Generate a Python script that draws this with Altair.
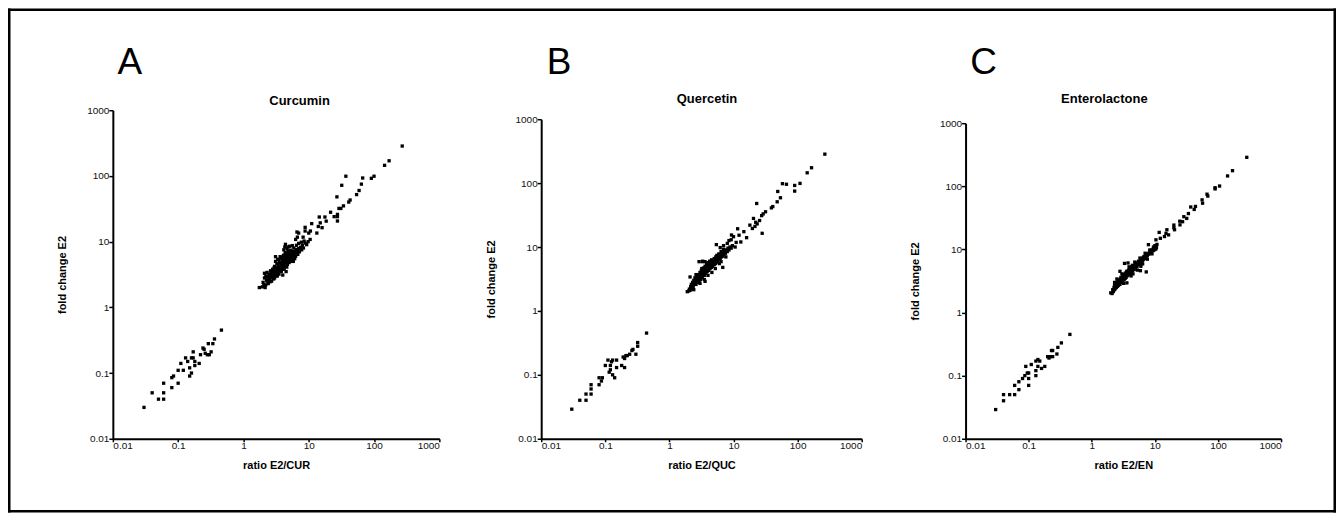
import altair as alt
import pandas as pd

letters = ["A", "B", "C"]
compounds = ["Curcumin", "Quercetin", "Enterolactone"]
x_titles = ["ratio E2/CUR", "ratio E2/QUC", "ratio E2/EN"]
y_title = "fold change E2"
tick_values = [0.01, 0.1, 1, 10, 100, 1000]

# (ratio, fold change) pairs
cur_low = [(0.03,0.03),(0.04,0.05),(0.05,0.04),(0.06,0.04),(0.06,0.05),(0.06,0.07),(0.08,0.06),(0.08,0.085),
           (0.085,0.09),(0.1,0.07),(0.1,0.11),(0.11,0.14),(0.12,0.11),(0.13,0.17),(0.14,0.15),(0.15,0.12),
           (0.15,0.09),(0.16,0.1),(0.16,0.17),(0.17,0.21),(0.17,0.17),(0.18,0.13),(0.18,0.15),(0.21,0.14),
           (0.22,0.19),(0.24,0.24),(0.25,0.23),(0.26,0.2),(0.28,0.19),(0.29,0.28),(0.3,0.19),(0.32,0.21),
           (0.34,0.28),(0.36,0.33),(0.46,0.45)]
cur_out = [(270,285),(170,170),(145,145),(100,99),(91,92),(67,93),(64,75),(59,60),(54,52),(43,43),(41,40),
           (34,35),(31,32),(29,32),(37,99),(32,72),(27,48),(27.5,26),(27.5,24),(27.5,20.6),(24.5,24),(21.6,28),
           (17.7,23.7),(18.5,20.5),(14.5,23.7),(15,19.3),(14,17),(16,16.3),(13.3,13.5),(11.1,18.8),(10.6,14.5),
           (10,13.5),(8.8,16.5),(8.8,14.5),(8.2,11.7),(7,13.5),(6.7,11.7),(6.3,10.8),(6.6,14)]
cur_core = [(1.75,2.0),(1.95,2.05),(2.0,2.4),(2.05,2.2),(2.1,3.3),(2.1,2.8),(2.15,2.0),(2.2,2.2),(2.2,3.0),
            (2.25,2.6),(2.3,2.5),(2.3,3.4),(2.35,2.9),(2.4,2.7),(2.4,2.3),(2.45,3.2),(2.5,3.0),(2.5,2.6),
            (2.55,2.45),(2.6,3.6),(2.6,2.8),(2.65,3.3),(2.7,2.5),(2.7,3.2),(2.75,2.9),(2.8,3.0),(2.8,3.8),
            (2.85,3.5),(2.9,2.7),(2.9,3.4),(2.95,4.0),(3.0,3.1),(3.0,4.2),(3.0,2.8),(3.05,3.5),(3.1,3.6),
            (3.1,5.0),(3.1,5.9),(3.15,3.0),(3.2,3.3),(3.2,4.0),(3.25,4.6),(3.3,3.0),(3.3,3.7),(3.35,5.4),
            (3.4,4.5),(3.4,3.4),(3.45,4.1),(3.5,3.9),(3.5,5.3),(3.5,3.2),(3.55,4.8),(3.6,4.2),(3.6,3.6),
            (3.65,5.9),(3.7,4.8),(3.7,4.0),(3.75,3.7),(3.8,3.5),(3.8,5.6),(3.85,4.6),(3.9,4.3),(3.9,3.8),
            (3.95,5.2),(4.0,4.6),(4.0,5.0),(4.0,4.0),(4.0,3.1),(4.05,5.8),(4.1,6.2),(4.1,4.4),(4.15,7.5),
            (4.2,3.8),(4.2,5.2),(4.25,4.9),(4.3,4.7),(4.3,8.3),(4.35,6.8),(4.4,5.5),(4.4,4.2),(4.4,9.1),
            (4.45,5.9),(4.5,4.9),(4.5,6.5),(4.55,5.2),(4.6,5.3),(4.6,4.1),(4.65,7.8),(4.7,4.5),(4.7,5.8),
            (4.75,6.2),(4.8,5.0),(4.8,7.2),(4.8,8.3),(4.85,5.4),(4.9,5.5),(4.95,6.7),(5.0,6.0),(5.0,4.8),
            (5.1,8.5),(5.1,5.1),(5.2,5.4),(5.2,6.4),(5.3,5.0),(5.3,7.4),(5.4,5.8),(5.5,7.0),(5.5,6.1),
            (5.6,5.3),(5.6,8.7),(5.7,6.6),(5.8,5.8),(5.9,8.0),(5.9,7.1),(6.0,6.3),(6.0,5.6),(6.2,7.0),
            (6.3,6.0),(6.4,7.6),(6.5,6.8),(6.5,8.8),(6.7,7.4),(6.8,6.4),(7.0,7.8),(7.0,9.4),(7.2,7.0),
            (7.5,8.2),(7.7,9.8),(7.8,7.5),(8.0,8.8),(8.3,8.0),(8.5,10.2),(8.8,9.5),(9.3,9.0),(9.8,10.0),
            (10.5,10.8),(4.5,3.5),(5.8,5.0),(6.1,5.5)]

quc_low = [(0.03,0.029),(0.04,0.04),(0.05,0.04),(0.05,0.05),(0.06,0.05),(0.06,0.07),(0.06,0.06),(0.08,0.07),
           (0.08,0.09),(0.087,0.08),(0.09,0.09),(0.1,0.14),(0.11,0.17),(0.115,0.11),(0.12,0.14),(0.125,0.16),
           (0.13,0.17),(0.13,0.1),(0.14,0.09),(0.15,0.17),(0.15,0.13),(0.18,0.14),(0.19,0.19),(0.2,0.13),
           (0.21,0.2),(0.22,0.2),(0.24,0.21),(0.26,0.24),(0.27,0.25),(0.3,0.21),(0.32,0.28),(0.32,0.32),
           (0.44,0.45),(0.12,0.12),(0.2,0.18)]
quc_out = [(266,284),(165,174),(141,145),(109,99),(90,92),(90,75),(58,98),(67,96),(54,59),(49,74),(48,51),
           (41,43),(39,41),(31.6,35.6),(29,33),(27.5,31),(28,16.4),(23,48),(25.5,26),(22.2,24.4),(20.5,28),
           (23.4,23),(21.6,21),(19.7,19.5),(18,22),(14.5,17.4),(11.6,19.3),(12.2,15.3),(10,14.5),(9.3,15.4),
           (9.2,13),(10.6,10),(8.0,11.4),(7,9.2),(6.8,4.8),(5.4,10.9),(3.25,5.9),(2.9,5.9),(3.6,2.9),(2.1,3.4),
           (16,14),(13,12),(11,11.8),(8.5,12.6),(6.2,9.8)]
quc_core = [(1.9,2.0),(2.0,2.05),(2.05,2.2),(2.1,2.1),(2.15,2.4),(2.2,2.3),(2.2,2.6),(2.25,2.2),(2.3,2.5),
            (2.3,2.8),(2.35,2.4),(2.4,2.7),(2.4,3.0),(2.45,2.6),(2.5,2.9),(2.5,3.3),(2.55,2.7),(2.6,3.0),
            (2.6,2.6),(2.65,3.2),(2.7,2.9),(2.7,3.5),(2.75,3.1),(2.8,2.8),(2.8,3.3),(2.85,3.7),(2.9,3.0),
            (2.9,3.5),(2.95,3.2),(3.0,3.4),(3.0,4.0),(3.05,3.1),(3.1,3.7),(3.1,3.3),(3.15,4.3),(3.2,3.5),
            (3.2,3.9),(3.25,3.3),(3.3,3.7),(3.3,4.2),(3.35,3.6),(3.4,4.0),(3.4,4.7),(3.45,3.8),(3.5,4.2),
            (3.5,3.6),(3.55,4.5),(3.6,4.0),(3.6,5.0),(3.65,4.3),(3.7,3.9),(3.7,4.7),(3.75,4.4),(3.8,4.1),
            (3.8,5.4),(3.85,4.6),(3.9,4.2),(3.9,5.0),(3.95,4.8),(4.0,4.4),(4.0,5.7),(4.05,4.6),(4.1,5.1),
            (4.1,4.3),(4.2,4.8),(4.2,5.5),(4.25,6.0),(4.3,4.6),(4.3,5.2),(4.4,5.0),(4.4,5.8),(4.5,4.8),
            (4.5,5.4),(4.55,6.3),(4.6,5.1),(4.7,5.6),(4.7,5.0),(4.8,5.3),(4.8,6.1),(4.9,5.7),(5.0,5.3),
            (5.0,6.6),(5.1,5.9),(5.2,5.5),(5.2,6.3),(5.3,7.0),(5.4,5.8),(5.5,6.2),(5.5,7.4),(5.6,6.0),
            (5.7,6.7),(5.8,6.3),(5.9,7.8),(6.0,6.6),(6.1,7.1),(6.2,6.4),(6.3,7.5),(6.4,8.5),(6.5,7.0),
            (6.6,7.8),(6.8,7.2),(6.9,8.2),(7.0,10.5),(7.1,7.7),(7.3,8.6),(7.5,8.0),(7.7,9.0),(8.0,8.5),
            (8.2,9.6),(8.5,9.0),(8.8,10.0),(9.2,9.6),(9.6,10.5),(3.0,2.7),(4.6,4.0),(6.0,5.5),(3.3,6.0),
            (3.6,5.9),(2.6,3.7),(3.2,4.6),(4.0,3.6),(5.2,4.6),(6.4,5.9),(7.6,7.0),(2.4,2.15),(3.5,3.1)]

en_low = [(0.03,0.029),(0.04,0.04),(0.04,0.05),(0.05,0.05),(0.06,0.05),(0.06,0.07),(0.07,0.08),(0.07,0.06),
          (0.08,0.09),(0.087,0.1),(0.09,0.14),(0.095,0.11),(0.1,0.11),(0.1,0.09),(0.1,0.07),(0.11,0.15),
          (0.13,0.17),(0.13,0.12),(0.13,0.1),(0.14,0.18),(0.14,0.14),(0.15,0.17),(0.16,0.13),(0.18,0.14),
          (0.2,0.2),(0.21,0.19),(0.23,0.25),(0.24,0.25),(0.24,0.2),(0.28,0.22),(0.29,0.28),(0.33,0.33),
          (0.45,0.45),(0.22,0.2)]
en_out = [(286,288),(170,177),(142,146),(106,101),(90,95),(90,91),(67,75),(69,70),(56,61),(57,54),(44,48),
          (42,43),(37,47),(34,37),(28.8,33),(32,31),(27.5,27.5),(25,24.5),(24.8,28),(20,24.3),(20,22),
          (20.5,20.5),(15.5,20.5),(15,18),(16.5,17),(14.2,16),(11.7,18.6),(12.2,15),(10.4,14.2),(10.8,12),
          (10,11.5),(9.5,10.9),(7.9,11.9),(7.3,4.4),(3.75,6.1)]
en_core = [(2.0,2.05),(2.1,2.0),(2.15,2.3),(2.2,2.15),(2.25,2.5),(2.3,2.3),(2.3,2.7),(2.35,2.4),(2.4,2.6),
           (2.4,2.9),(2.45,2.5),(2.5,2.7),(2.5,3.0),(2.55,2.6),(2.6,2.8),(2.6,3.1),(2.65,2.7),(2.7,2.9),
           (2.7,3.3),(2.75,3.0),(2.8,2.8),(2.8,3.2),(2.85,3.4),(2.9,3.0),(2.9,3.6),(2.95,3.2),(3.0,3.1),
           (3.0,3.5),(3.05,3.3),(3.1,3.2),(3.1,3.7),(3.15,3.4),(3.2,3.3),(3.2,3.8),(3.25,3.6),(3.3,3.4),
           (3.3,4.0),(3.35,3.7),(3.4,3.5),(3.4,4.2),(3.45,3.9),(3.5,3.6),(3.5,4.1),(3.55,4.4),(3.6,3.8),
           (3.6,4.5),(3.65,4.0),(3.7,3.9),(3.7,4.3),(3.8,4.1),(3.8,4.6),(3.85,4.3),(3.9,4.0),(3.9,4.8),
           (4.0,4.3),(4.0,4.5),(4.1,4.4),(4.1,5.0),(4.2,4.6),(4.2,4.2),(4.3,4.8),(4.3,5.3),(4.4,4.6),
           (4.4,5.0),(4.5,4.8),(4.5,5.5),(4.6,5.0),(4.7,5.2),(4.7,4.8),(4.8,5.5),(4.9,5.1),(4.9,5.8),
           (5.0,5.3),(5.1,5.6),(5.1,6.0),(5.2,5.4),(5.3,5.8),(5.4,6.2),(5.5,5.7),(5.5,6.5),(5.6,6.0),
           (5.7,6.3),(5.8,5.9),(5.9,6.7),(6.0,6.3),(6.1,6.9),(6.2,6.5),(6.3,7.1),(6.4,6.7),(6.5,7.4),
           (6.6,7.0),(6.7,7.7),(6.8,7.2),(7.0,7.6),(7.1,8.0),(7.3,7.7),(7.4,8.3),(7.6,8.0),(7.8,8.6),
           (8.0,8.4),(8.2,9.0),(8.4,8.8),(8.6,9.4),(8.8,9.2),(9.0,9.8),(9.2,9.5),(9.4,10.1),(9.6,9.7),
           (9.8,10.4),(10.0,10.0),(10.2,10.6),(10.4,10.2),(10.6,10.8),(3.3,6.0),(2.8,4.5),(5.9,4.6),
           (3.6,2.95),(4.5,4.1),(2.5,3.4),(3.0,4.1),(3.2,2.9),(3.9,5.3),(4.2,3.8),(4.8,6.3),(5.3,4.7),
           (5.8,7.3),(6.4,5.9),(7.0,8.7),(7.6,7.0),(8.3,9.8),(9.0,8.5),(2.3,3.0),(4.4,5.6),(6.0,5.4)]

panels_points = [cur_low + cur_core + cur_out, quc_low + quc_core + quc_out, en_low + en_core + en_out]

FONT = "Liberation Sans"

layout = [
    dict(xr=[0, 327], yr=[329, 0], yoff=0, lx=17, tx=187, ty=-5),
    dict(xr=[2, 323], yr=[329, 9], yoff=-2, lx=20, tx=168, ty=-7),
    dict(xr=[0, 316], yr=[329, 13], yoff=0, lx=18, tx=139, ty=-7),
]

one = pd.DataFrame({"k": [0]})


def frame_rect(x1, x2, y1, y2):
    return alt.Chart(one).mark_rect(color="black").encode(
        x=alt.value(x1), x2=alt.value(x2), y=alt.value(y1), y2=alt.value(y2))


def panel(i):
    L = layout[i]
    df = pd.DataFrame(panels_points[i], columns=["ratio", "fold"])
    pts = alt.Chart(df).mark_square(size=11, color="black", opacity=1).encode(
        x=alt.X("ratio:Q",
                scale=alt.Scale(type="log", domain=[0.01, 1000], range=L["xr"], nice=False),
                axis=alt.Axis(values=tick_values, format="~g", title=x_titles[i], tickSize=3,
                              labelPadding=-1, titlePadding=9)),
        y=alt.Y("fold:Q",
                scale=alt.Scale(type="log", domain=[0.01, 1000], range=L["yr"], nice=False),
                axis=alt.Axis(values=tick_values, format="~g", title=y_title, tickSize=4,
                              labelPadding=0, titlePadding=19, offset=L["yoff"])),
    )
    letter = alt.Chart(pd.DataFrame({"t": [letters[i]]})).mark_text(
        font=FONT, fontSize=37, align="center", baseline="alphabetic", color="black"
    ).encode(text="t:N", x=alt.value(L["lx"]), y=alt.value(-36))
    title = alt.Chart(pd.DataFrame({"t": [compounds[i]]})).mark_text(
        font=FONT, fontSize=13, fontWeight="bold", align="center", baseline="alphabetic", color="black"
    ).encode(text="t:N", x=alt.value(L["tx"]), y=alt.value(L["ty"]))
    layers = [pts, letter, title]
    if i == 0:
        # outer frame of the whole figure (drawn once, outside the plot area)
        left, right, top, bottom, t = -105, 1225, -102, 403, 2.5
        layers += [frame_rect(left, right, top, top + t),
                   frame_rect(left, right, bottom - t, bottom),
                   frame_rect(left, left + t, top, bottom),
                   frame_rect(right - t, right, top, bottom)]
    return alt.layer(*layers).properties(width=327, height=329)


chart = alt.hconcat(panel(0), panel(1), panel(2), spacing=100, bounds="flush").properties(
    padding=0, background="white"
).configure_view(strokeWidth=0).configure_axis(
    grid=False,
    domainColor="black", domainWidth=2,
    tickColor="black", tickWidth=1.5,
    labelFont=FONT, labelFontSize=10, labelColor="#111111",
    titleFont=FONT, titleFontSize=11, titleFontWeight="bold", titleColor="black",
)

chart.save("out.html", embed_options={"renderer": "svg", "actions": False})
